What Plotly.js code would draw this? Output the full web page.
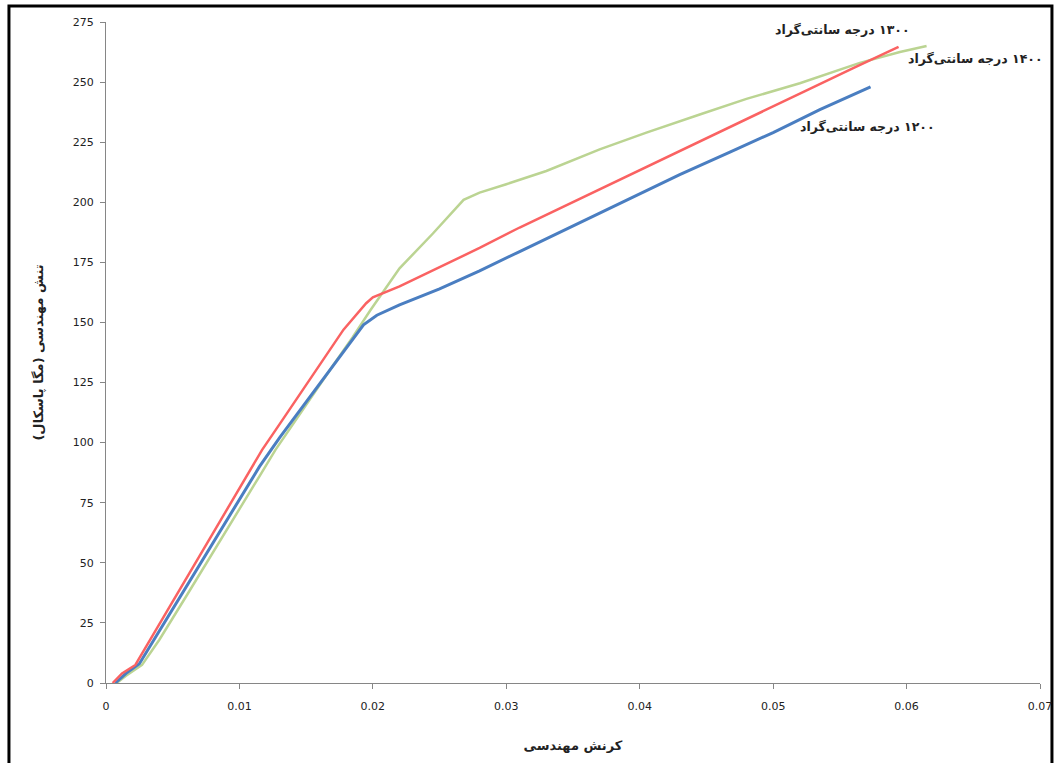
<!DOCTYPE html>
<html>
<head>
<meta charset="utf-8">
<script src="https://cdn.plot.ly/plotly-3.0.1.min.js"></script>
<style>html,body{margin:0;padding:0;background:#fff;}#chart{width:1056px;height:763px;}</style>
</head>
<body>
<div id="chart"></div>
<script>
// 1200 °C series
const x1200 = [0.0007,0.0015,0.0025,0.004,0.006,0.008,0.010,0.0115,0.013,0.015,0.017,0.0185,0.0193,0.0203,0.022,0.025,0.028,0.031,0.034,0.037,0.040,0.043,0.0468,0.050,0.0535,0.0573];
const y1200 = [0,4,8,21.7,40,58,76,90,102,117,132,143,149,153,157.3,164,171.5,179.5,187.5,195.5,203.5,211.5,221,229,238.5,248];
// 1300 °C series
const x1300 = [0.0005,0.0012,0.0022,0.004,0.006,0.008,0.010,0.0117,0.013,0.015,0.0178,0.0195,0.0200,0.022,0.025,0.028,0.031,0.034,0.037,0.040,0.0445,0.048,0.052,0.056,0.0594];
const y1300 = [0,4,7.5,24.5,43.4,62.4,81.3,97,107.6,124,147,158,160.5,165,173,181,189.5,197.5,205.5,213.4,225.3,234.6,245.2,255.8,264.7];
// 1400 °C series
const x1400 = [0.0008,0.0015,0.0027,0.004,0.006,0.008,0.010,0.0115,0.0127,0.015,0.017,0.0185,0.0198,0.022,0.0245,0.0268,0.028,0.030,0.033,0.037,0.0405,0.0445,0.048,0.052,0.0565,0.0595,0.0615];
const y1400 = [0,3,7.5,18,36,54,72,86,97,116,132,144,155,172.5,187,201,204,207.5,213,222,229,236.5,243,249.5,258,262.5,265];

const seriesLabels = ['۱۲۰۰ درجه سانتی‌گراد','۱۳۰۰ درجه سانتی‌گراد','۱۴۰۰ درجه سانتی‌گراد'];
const xTitle = 'کرنش مهندسی';
const yTitle = 'تنش مهندسی (مگا پاسکال)';
const xTickVals = [0,0.01,0.02,0.03,0.04,0.05,0.06,0.07];
const xTickText = ['0','0.01','0.02','0.03','0.04','0.05','0.06','0.07'];
const yTickVals = [0,25,50,75,100,125,150,175,200,225,250,275];

const RLM = '\u200F';
const traces = [
  {x:x1400, y:y1400, mode:'lines', name:seriesLabels[2], line:{color:'rgb(187,212,146)', width:2.5}},
  {x:x1200, y:y1200, mode:'lines', name:seriesLabels[0], line:{color:'rgb(74,126,193)', width:3}},
  {x:x1300, y:y1300, mode:'lines', name:seriesLabels[1], line:{color:'rgb(250,98,98)', width:2.5}}
];

const labelFont = {family:'DejaVu Sans, Noto Sans, sans-serif', size:13, color:'#222'};
const annFont = {family:'DejaVu Sans, Noto Sans, sans-serif', size:12.5, color:'#222'};
const tickFont = {family:'DejaVu Sans, sans-serif', size:11, color:'#222'};
const layout = {
  width:1056, height:763,
  margin:{l:106, r:16, t:22, b:80},
  paper_bgcolor:'#fff', plot_bgcolor:'#fff',
  showlegend:false,
  font:{family:'DejaVu Sans, sans-serif', size:10, color:'#222'},
  xaxis:{
    range:[0,0.07], tickvals:xTickVals, ticktext:xTickText,
    showgrid:false, zeroline:false, showline:true, linecolor:'#868686', linewidth:1,
    ticks:'outside', ticklen:5, tickcolor:'#868686', ticklabelstandoff:8,
    tickfont:tickFont,
    title:{text:'<b>'+RLM+xTitle+'</b>', font:labelFont, standoff:28}
  },
  yaxis:{
    range:[0,275], tickvals:yTickVals,
    showgrid:false, zeroline:false, showline:true, linecolor:'#868686', linewidth:1,
    ticks:'outside', ticklen:5, tickcolor:'#868686', ticklabelstandoff:4,
    tickfont:tickFont,
    title:{text:'<b>'+RLM+yTitle+RLM+'</b>', font:labelFont, standoff:26}
  },
  annotations:[
    {x:0.0552, y:271.7, xref:'x', yref:'y', text:'<b>'+RLM+seriesLabels[1]+'</b>', showarrow:false, font:annFont, xanchor:'center'},
    {x:0.0652, y:260, xref:'x', yref:'y', text:'<b>'+RLM+seriesLabels[2]+'</b>', showarrow:false, font:annFont, xanchor:'center'},
    {x:0.0571, y:231.7, xref:'x', yref:'y', text:'<b>'+RLM+seriesLabels[0]+'</b>', showarrow:false, font:annFont, xanchor:'center'}
  ],
  shapes:[
    {type:'rect', xref:'paper', yref:'paper', x0:-0.1039, x1:1.0128, y0:-0.3, y1:1.0242, line:{color:'#000', width:3}, fillcolor:'rgba(0,0,0,0)', layer:'below'}
  ]
};
Plotly.newPlot('chart', traces, layout, {staticPlot:true, displayModeBar:false});
</script>
</body>
</html>
